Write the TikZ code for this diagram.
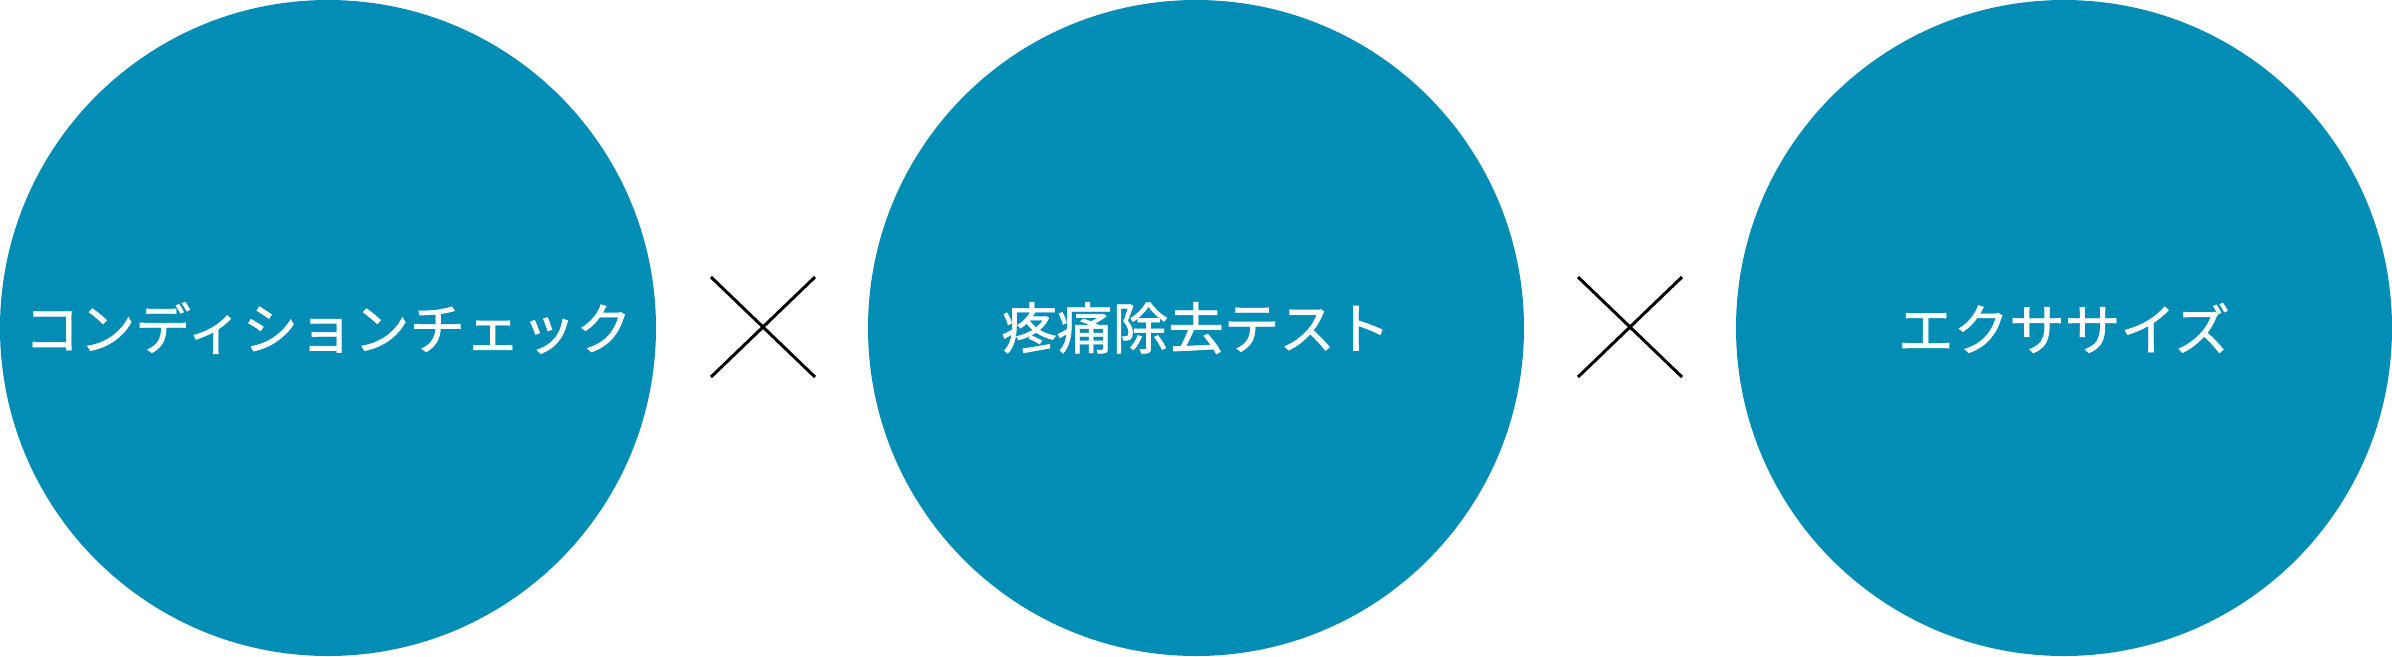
\documentclass[tikz,border=0pt]{standalone}
\usepackage{fontspec}
\newfontfamily\jpfont[FakeBold=1.2]{Noto Sans CJK JP}
\definecolor{teal1}{RGB}{3,141,181}
\begin{document}
\begin{tikzpicture}[x=0.25pt,y=-0.25pt,
  bubble/.style={circle,fill=teal1,draw=none,minimum size=164pt,inner sep=0pt,
    text=white,font=\jpfont\fontsize{13.9pt}{16pt}\selectfont},
  crossline/.style={draw=black,line width=0.75pt}]
\useasboundingbox (0,0) rectangle (2392,656);
\node[bubble] (c1) at (328,328) {コンディションチェック};
\node[bubble] (c2) at (1196,328) {疼痛除去テスト};
\node[bubble] (c3) at (2064,328) {エクササイズ};
% cross 1
\coordinate (a1) at (711,277);
\coordinate (a2) at (815,377);
\coordinate (a3) at (711,377);
\coordinate (a4) at (815,277);
\draw[crossline] (a1) -- (a2);
\draw[crossline] (a3) -- (a4);
% cross 2
\coordinate (b1) at (1578,277);
\coordinate (b2) at (1682,377);
\coordinate (b3) at (1578,377);
\coordinate (b4) at (1682,277);
\draw[crossline] (b1) -- (b2);
\draw[crossline] (b3) -- (b4);
\end{tikzpicture}
\end{document}
